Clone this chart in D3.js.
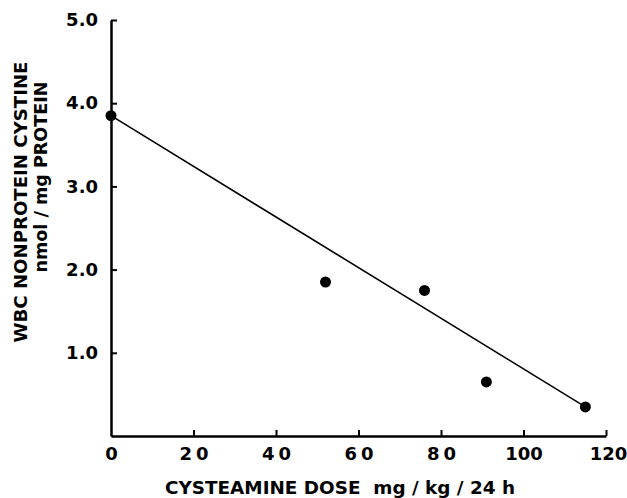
<!DOCTYPE html>
<html>
<head>
<meta charset="utf-8">
<script src="https://cdn.jsdelivr.net/npm/d3@7"></script>
<style>
  body { margin: 0; background: #fff; }
  svg { display: block; }
  text { font-family: "DejaVu Sans", sans-serif; font-weight: bold; fill: #000; }
</style>
</head>
<body>
<svg id="chart"></svg>
<script>
// measured points (dose mg/kg/24h, WBC nonprotein cystine nmol/mg protein)
const doses = [0, 52, 76, 91, 115];
const cystine = [3.85, 1.85, 1.75, 0.65, 0.35];

// regression line end points
const fitDose = [0, 115];
const fitCystine = [3.85, 0.35];

const xTicks = [0, 20, 40, 60, 80, 100, 120];
const yTicks = [1, 2, 3, 4, 5];

const width = 627;
const height = 498;
const margin = { top: 20, right: 21, bottom: 62, left: 111 };

const svg = d3.select('#chart')
    .attr('width', width)
    .attr('height', height);

// scales
const xScale = d3.scaleLinear()
    .domain([0, 120])
    .range([margin.left, width - margin.right]);

const yScale = d3.scaleLinear()
    .domain([0, 5])
    .range([height - margin.bottom, margin.top]);

// x axis
const xAxis = d3.axisBottom(xScale)
    .tickValues(xTicks)
    .tickSizeInner(-6)
    .tickSizeOuter(0)
    .tickPadding(11)
    .tickFormat(d3.format('d'));

const gx = svg.append('g')
    .attr('transform', `translate(0, ${height - margin.bottom})`)
    .call(xAxis);

gx.select('.domain').attr('stroke-width', 2.5);
gx.selectAll('.tick line').attr('stroke-width', 2);
gx.selectAll('.tick text')
    .style('font-size', '18px')
    .style('font-family', '"DejaVu Sans", sans-serif')
    .style('letter-spacing', d => (d > 0 && d < 100) ? '4px' : '0px')
    .attr('dx', d => (d > 0 && d < 100) ? '2px' : (d === 120 ? '2px' : '0px'));
gx.selectAll('.tick').filter(d => d === 0).select('line').remove();

// y axis
const yAxis = d3.axisLeft(yScale)
    .tickValues(yTicks)
    .tickSizeInner(-6)
    .tickSizeOuter(0)
    .tickPadding(13)
    .tickFormat(d3.format('.1f'));

const gy = svg.append('g')
    .attr('transform', `translate(${margin.left}, 0)`)
    .call(yAxis);

gy.select('.domain').attr('stroke-width', 2.5);
gy.selectAll('.tick line').attr('stroke-width', 2);
gy.selectAll('.tick text')
    .style('font-size', '18px')
    .style('font-family', '"DejaVu Sans", sans-serif');

// regression line
const line = d3.line()
    .x(d => xScale(d[0]))
    .y(d => yScale(d[1]));

svg.append('path')
    .datum(d3.zip(fitDose, fitCystine))
    .attr('d', line)
    .attr('fill', 'none')
    .attr('stroke', '#000')
    .attr('stroke-width', 1.6);

// points
svg.selectAll('circle.pt')
    .data(d3.zip(doses, cystine))
    .enter()
    .append('circle')
    .attr('class', 'pt')
    .attr('cx', d => xScale(d[0]))
    .attr('cy', d => yScale(d[1]))
    .attr('r', 5.5)
    .attr('fill', '#000');

// axis titles
svg.append('text')
    .attr('x', 340)
    .attr('y', 494)
    .attr('text-anchor', 'middle')
    .style('font-size', '18px')
    .attr('textLength', 350)
    .attr('lengthAdjust', 'spacingAndGlyphs')
    .attr('xml:space', 'preserve')
    .text('CYSTEAMINE DOSE  mg / kg / 24 h');

svg.append('text')
    .attr('transform', 'translate(27, 202) rotate(-90)')
    .attr('text-anchor', 'middle')
    .style('font-size', '17px')
    .attr('textLength', 281)
    .attr('lengthAdjust', 'spacingAndGlyphs')
    .text('WBC NONPROTEIN CYSTINE');

svg.append('text')
    .attr('transform', 'translate(47, 177) rotate(-90)')
    .attr('text-anchor', 'middle')
    .style('font-size', '17px')
    .attr('textLength', 191)
    .attr('lengthAdjust', 'spacingAndGlyphs')
    .text('nmol / mg PROTEIN');
</script>
</body>
</html>
